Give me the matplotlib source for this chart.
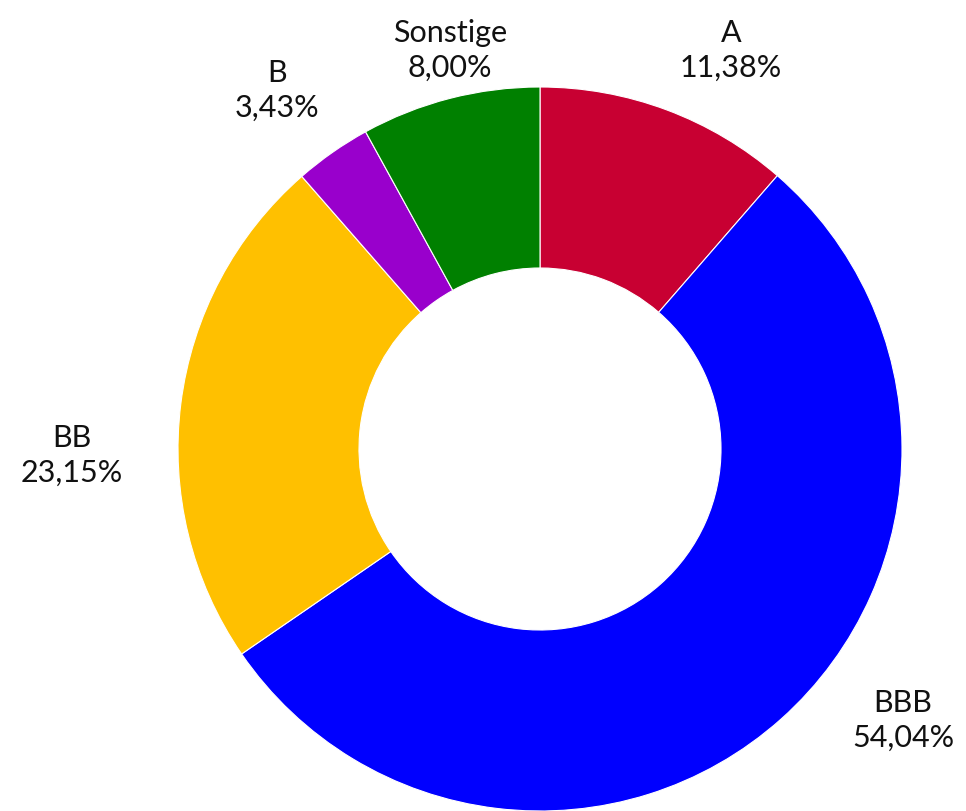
import matplotlib
matplotlib.use("Agg")
import matplotlib.pyplot as plt
import numpy as np

# rating split, clockwise from 12 o'clock
labels = ["A", "BBB", "BB", "B", "Sonstige"]
shares = [11.38, 54.04, 23.15, 3.43, 8.00]
colors = ["#C80032", "#0000FF", "#FFC000", "#9900CC", "#008000"]

# where the labels sit (text centre, in pie radii)
label_xy = [(0.528, 1.105), (1.003, -0.746), (-1.293, -0.014),
            (-0.727, 0.994), (-0.249, 1.105)]

plt.rcParams["font.family"] = ["Lato", "DejaVu Sans"]

W, H, R = 966, 812, 362
cx, cy = 540, 450
fig = plt.figure(figsize=(W / 100, H / 100), dpi=100)
ax = fig.add_axes([0, 0, 1, 1])

ax.pie(shares, colors=colors, startangle=90, counterclock=False,
       radius=1.0, wedgeprops=dict(width=0.5, edgecolor="white", linewidth=0.8))

for lab, val, (x, y) in zip(labels, shares, label_xy):
    txt = f"{lab}\n{val:.2f}%".replace(".", ",")
    ax.text(x, y, txt, ha="center", va="center", fontsize=22,
            linespacing=1.3, color="#111111")

ax.set_xlim(-cx / R, (W - cx) / R)
ax.set_ylim(-(H - cy) / R, cy / R)
ax.set_aspect("equal")
ax.axis("off")

fig.savefig("out.png", dpi=100)
